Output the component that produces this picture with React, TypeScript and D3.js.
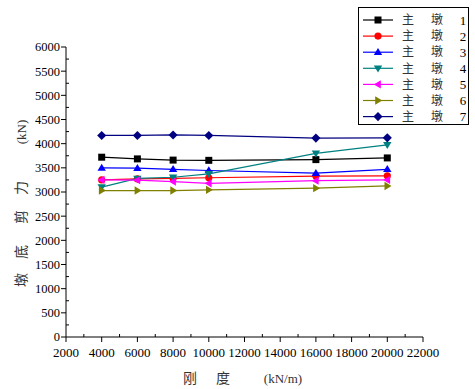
import React, { useEffect, useRef } from "react";
import * as d3 from "d3";

// stiffness values (kN/m)
const stiffness = [4000, 6000, 8000, 10000, 16000, 20000];

// pier base shear (kN) per main pier
const pier1 = [3720, 3685, 3660, 3655, 3670, 3705];
const pier2 = [3250, 3270, 3280, 3295, 3330, 3335];
const pier3 = [3500, 3495, 3470, 3445, 3390, 3470];
const pier4 = [3100, 3280, 3305, 3375, 3800, 3975];
const pier5 = [3250, 3245, 3215, 3180, 3235, 3250];
const pier6 = [3030, 3030, 3030, 3045, 3080, 3125];
const pier7 = [4170, 4170, 4180, 4170, 4115, 4120];

const seriesNames = ["1", "2", "3", "4", "5", "6", "7"];
const seriesValues = [pier1, pier2, pier3, pier4, pier5, pier6, pier7];
const colors = ["#000000", "#FF0000", "#0000FF", "#008080", "#FF00FF", "#808000", "#000080"];
const markers = ["square", "circle", "up", "down", "left", "right", "diamond"];

const xTicks = d3.range(2000, 22001, 2000);
const yTicks = d3.range(0, 6001, 500);

const W = 475;
const H = 389;
const margin = { left: 66, right: 52, top: 47, bottom: 52 };

const markerPath = (type: string, s: number) => {
  switch (type) {
    case "square":
      return `M${-s},${-s}H${s}V${s}H${-s}Z`;
    case "circle":
      return d3.symbol(d3.symbolCircle, Math.PI * s * s * 1.05)()!;
    case "up":
      return `M0,${-s * 1.2}L${s * 1.2},${s * 0.8}L${-s * 1.2},${s * 0.8}Z`;
    case "down":
      return `M0,${s * 1.2}L${s * 1.2},${-s * 0.8}L${-s * 1.2},${-s * 0.8}Z`;
    case "left":
      return `M${-s * 1.2},0L${s * 0.8},${-s * 1.2}L${s * 0.8},${s * 1.2}Z`;
    case "right":
      return `M${s * 1.2},0L${-s * 0.8},${-s * 1.2}L${-s * 0.8},${s * 1.2}Z`;
    default:
      return `M0,${-s * 1.3}L${s * 1.3},0L0,${s * 1.3}L${-s * 1.3},0Z`;
  }
};

const App = () => {
  const ref = useRef<SVGSVGElement>(null);

  useEffect(() => {
    const svg = d3.select(ref.current);
    svg.selectAll("*").remove();

    const x = d3.scaleLinear().domain([2000, 22000]).range([margin.left, W - margin.right]);
    const y = d3.scaleLinear().domain([0, 6000]).range([H - margin.bottom, margin.top]);

    const serif = "Liberation Serif";
    const cjk = "Noto Sans CJK SC";

    // x axis: major ticks outward, minor inward
    const gx = svg.append("g").attr("transform", `translate(0,${y(0)})`);
    gx.append("line").attr("x1", x(2000)).attr("x2", x(22000)).attr("stroke", "#000");
    gx.selectAll(".maj").data(xTicks).join("line")
      .attr("x1", d => x(d)).attr("x2", d => x(d)).attr("y1", 0).attr("y2", 5).attr("stroke", "#000");
    gx.selectAll(".min").data(d3.range(3000, 22000, 2000)).join("line")
      .attr("x1", d => x(d)).attr("x2", d => x(d)).attr("y1", 0).attr("y2", -3).attr("stroke", "#000");
    gx.selectAll("text").data(xTicks).join("text")
      .attr("x", d => x(d)).attr("y", 20).attr("text-anchor", "middle")
      .attr("font-family", serif).attr("font-size", 13).text(d => d);

    // y axis
    const gy = svg.append("g").attr("transform", `translate(${x(2000)},0)`);
    gy.append("line").attr("y1", y(0)).attr("y2", y(6000)).attr("stroke", "#000");
    gy.selectAll(".maj").data(yTicks).join("line")
      .attr("y1", d => y(d)).attr("y2", d => y(d)).attr("x1", 0).attr("x2", -5).attr("stroke", "#000");
    gy.selectAll(".min").data(d3.range(250, 6000, 500)).join("line")
      .attr("y1", d => y(d)).attr("y2", d => y(d)).attr("x1", 0).attr("x2", 3).attr("stroke", "#000");
    gy.selectAll("text").data(yTicks).join("text")
      .attr("x", -6).attr("y", d => y(d)).attr("dy", "0.35em").attr("text-anchor", "end")
      .attr("font-family", serif).attr("font-size", 12.5).text(d => d);

    // series
    const line = d3.line<number>().x((_, i) => x(stiffness[i])).y(d => y(d));
    seriesValues.forEach((vals, k) => {
      svg.append("path").datum(vals).attr("d", line)
        .attr("fill", "none").attr("stroke", colors[k]).attr("stroke-width", 1.2);
      svg.append("g").selectAll("path").data(vals).join("path")
        .attr("transform", (d, i) => `translate(${x(stiffness[i])},${y(d)})`)
        .attr("d", markerPath(markers[k], 3.5)).attr("fill", colors[k]);
    });

    // axis titles
    const yl = svg.append("g").attr("transform", "translate(21,0) rotate(-90)").attr("fill", "#333");
    [["墩", 280], ["底", 252], ["剪", 217], ["力", 188]].forEach(([t, p]) => {
      yl.append("text").attr("x", -(p as number)).attr("dy", "0.35em").attr("text-anchor", "middle")
        .attr("font-family", cjk).attr("font-size", 14).text(t as string);
    });
    yl.append("text").attr("x", -132).attr("dy", "0.35em").attr("text-anchor", "middle")
      .attr("font-family", serif).attr("font-size", 13).text("(kN)");

    const xl = svg.append("g").attr("transform", "translate(0,378)").attr("fill", "#333");
    xl.append("text").attr("x", 190).attr("dy", "0.35em").attr("text-anchor", "middle")
      .attr("font-family", cjk).attr("font-size", 14).text("刚");
    xl.append("text").attr("x", 223).attr("dy", "0.35em").attr("text-anchor", "middle")
      .attr("font-family", cjk).attr("font-size", 14).text("度");
    xl.append("text").attr("x", 283).attr("dy", "0.35em").attr("text-anchor", "middle")
      .attr("font-family", serif).attr("font-size", 13).text("(kN/m)");

    // legend
    const lg = svg.append("g");
    lg.append("rect").attr("x", 358.5).attr("y", 7.5).attr("width", 110).attr("height", 117)
      .attr("fill", "#fff").attr("stroke", "#000");
    seriesNames.forEach((n, k) => {
      const ry = 20 + k * 16.1;
      lg.append("line").attr("x1", 363).attr("x2", 393).attr("y1", ry).attr("y2", ry)
        .attr("stroke", colors[k]).attr("stroke-width", 1.2);
      lg.append("path").attr("transform", `translate(378,${ry})`).attr("d", markerPath(markers[k], 3.5)).attr("fill", colors[k]);
      lg.append("text").attr("x", 408).attr("y", ry).attr("dy", "0.35em").attr("text-anchor", "middle")
        .attr("font-family", cjk).attr("font-size", 12).attr("fill", "#333").text("主");
      lg.append("text").attr("x", 437).attr("y", ry).attr("dy", "0.35em").attr("text-anchor", "middle")
        .attr("font-family", cjk).attr("font-size", 12).attr("fill", "#333").text("墩");
      lg.append("text").attr("x", 463).attr("y", ry).attr("dy", "0.35em").attr("text-anchor", "middle")
        .attr("font-family", serif).attr("font-size", 13).text(n);
    });
  }, []);

  return (
    <div style={{ position: "fixed", left: 0, top: 0 }}>
      <svg ref={ref} width={W} height={H} style={{ display: "block", background: "#fff" }} />
    </div>
  );
};

export default App;
